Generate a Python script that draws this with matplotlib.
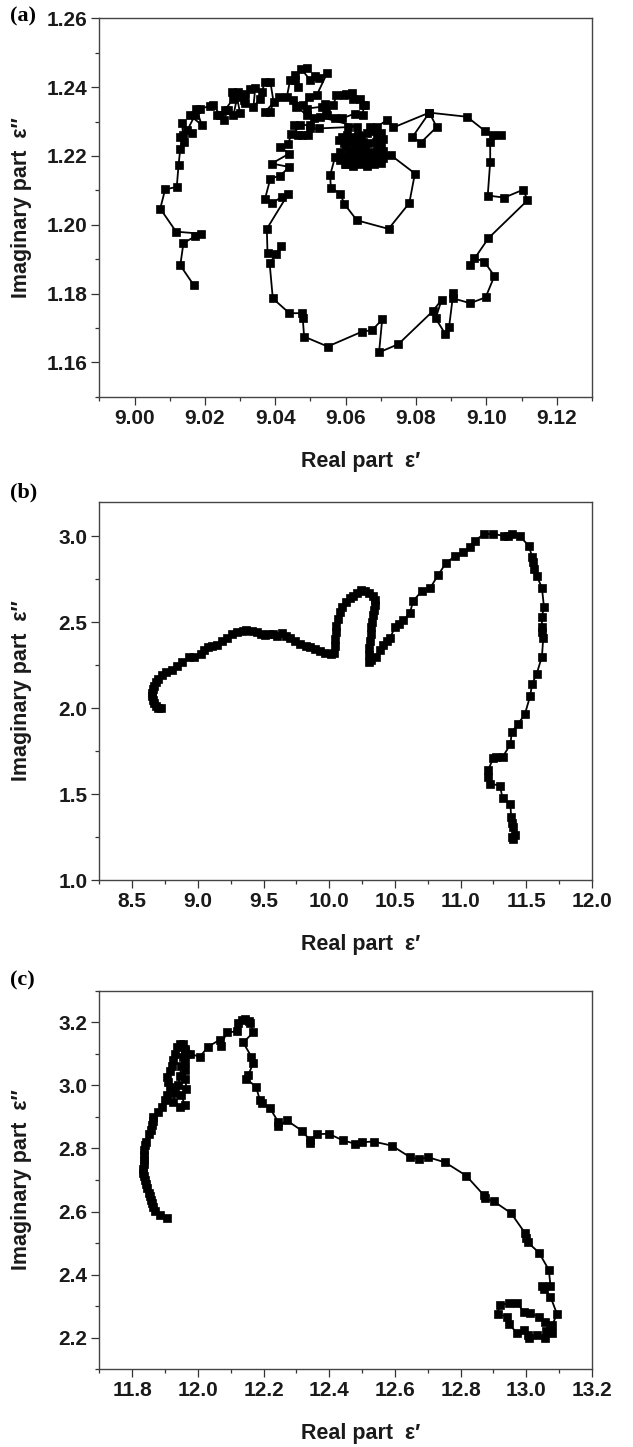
"""Cole-Cole style plots (real vs imaginary permittivity) for three samples."""

import matplotlib
matplotlib.use("Agg")
import matplotlib.pyplot as plt
from matplotlib.font_manager import FontProperties
from matplotlib.ticker import MultipleLocator, FormatStrFormatter

plt.rcParams["font.family"] = ["Liberation Sans", "DejaVu Sans"]

# ---- panel (a) ----
a_real = [
    9.0168, 9.0130, 9.0139, 9.0172, 9.0189, 9.0118, 9.0073, 9.0087, 9.0120, 9.0125,
    9.0130, 9.0139, 9.0128, 9.0140, 9.0135, 9.0163, 9.0150, 9.0172, 9.0158, 9.0191,
    9.0175, 9.0187, 9.0215, 9.0224, 9.0243, 9.0234, 9.0253, 9.0267, 9.0258, 9.0281,
    9.0277, 9.0295, 9.0281, 9.0300, 9.0291, 9.0315, 9.0310, 9.0315, 9.0329, 9.0343,
    9.0338, 9.0357, 9.0362, 9.0371, 9.0386, 9.0395, 9.0386, 9.0371, 9.0410, 9.0433,
    9.0442, 9.0456, 9.0466, 9.0456, 9.0490, 9.0473, 9.0499, 9.0512, 9.0523, 9.0547,
    9.0518, 9.0497, 9.0480, 9.0450, 9.0460, 9.0490, 9.0509, 9.0490, 9.0532, 9.0540,
    9.0547, 9.0545, 9.0565, 9.0574, 9.0594, 9.0602, 9.0618, 9.0621, 9.0641, 9.0655,
    9.0650, 9.0650, 9.0626, 9.0589, 9.0569, 9.0527, 9.0632, 9.0608, 9.0523, 9.0499,
    9.0499, 9.0471, 9.0452, 9.0466, 9.0494, 9.0475, 9.0446, 9.0437, 9.0414, 9.0440,
    9.0390, 9.0440, 9.0414, 9.0386, 9.0371, 9.0390, 9.0418, 9.0437, 9.0376, 9.0378,
    9.0402, 9.0417, 9.0384, 9.0393, 9.0440, 9.0475, 9.0478, 9.0482, 9.0549, 9.0646,
    9.0676, 9.0704, 9.0695, 9.0750, 9.0847, 9.0873, 9.0856, 9.0883, 9.0894, 9.0906,
    9.0906, 9.0954, 9.0998, 9.1023, 9.0994, 9.0966, 9.0954, 9.1006, 9.1117, 9.1105,
    9.1051, 9.1004, 9.1011, 9.1011, 9.1042, 9.1020, 9.0997, 9.0945, 9.0838, 9.0859,
    9.0814, 9.0790, 9.0838, 9.0736, 9.0717, 9.0688, 9.0670, 9.0700, 9.0707, 9.0690,
    9.0680, 9.0660, 9.0645, 9.0635, 9.0620, 9.0605, 9.0590, 9.0580, 9.0595, 9.0615,
    9.0630, 9.0650, 9.0665, 9.0685, 9.0700, 9.0705, 9.0690, 9.0675, 9.0655, 9.0640,
    9.0620, 9.0600, 9.0585, 9.0595, 9.0610, 9.0625, 9.0645, 9.0660, 9.0680, 9.0695,
    9.0705, 9.0690, 9.0670, 9.0650, 9.0630, 9.0612, 9.0598, 9.0729, 9.0797, 9.0781,
    9.0722, 9.0632, 9.0596, 9.0585, 9.0558, 9.0556, 9.0570, 9.0585, 9.0600, 9.0620,
    9.0640, 9.0660, 9.0680, 9.0700, 9.0690, 9.0672, 9.0655, 9.0635, 9.0615,
]
a_imag = [
    1.1825, 1.1882, 1.1947, 1.1966, 1.1974, 1.1980, 1.2047, 1.2103, 1.2110, 1.2173,
    1.2221, 1.2261, 1.2255, 1.2240, 1.2295, 1.2266, 1.2275, 1.2319, 1.2318, 1.2290,
    1.2338, 1.2338, 1.2345, 1.2348, 1.2319, 1.2318, 1.2306, 1.2333, 1.2335, 1.2367,
    1.2386, 1.2387, 1.2318, 1.2324, 1.2372, 1.2353, 1.2362, 1.2381, 1.2396, 1.2397,
    1.2343, 1.2367, 1.2387, 1.2416, 1.2416, 1.2358, 1.2328, 1.2328, 1.2372, 1.2372,
    1.2420, 1.2421, 1.2401, 1.2435, 1.2455, 1.2454, 1.2421, 1.2432, 1.2426, 1.2440,
    1.2377, 1.2372, 1.2348, 1.2362, 1.2343, 1.2319, 1.2309, 1.2338, 1.2343, 1.2352,
    1.2319, 1.2333, 1.2348, 1.2377, 1.2377, 1.2379, 1.2382, 1.2367, 1.2367, 1.2348,
    1.2348, 1.2318, 1.2323, 1.2309, 1.2309, 1.2314, 1.2285, 1.2284, 1.2280, 1.2280,
    1.2290, 1.2290, 1.2289, 1.2261, 1.2261, 1.2260, 1.2265, 1.2236, 1.2226, 1.2207,
    1.2178, 1.2168, 1.2143, 1.2134, 1.2076, 1.2062, 1.2081, 1.2090, 1.1988, 1.1917,
    1.1915, 1.1937, 1.1888, 1.1786, 1.1743, 1.1743, 1.1730, 1.1675, 1.1646, 1.1689,
    1.1694, 1.1725, 1.1629, 1.1653, 1.1748, 1.1782, 1.1728, 1.1683, 1.1702, 1.1801,
    1.1786, 1.1772, 1.1789, 1.1851, 1.1893, 1.1903, 1.1883, 1.1961, 1.2071, 1.2102,
    1.2079, 1.2085, 1.2183, 1.2241, 1.2261, 1.2261, 1.2272, 1.2314, 1.2326, 1.2284,
    1.2239, 1.2255, 1.2326, 1.2283, 1.2304, 1.2284, 1.2284, 1.2268, 1.2250, 1.2262,
    1.2272, 1.2268, 1.2258, 1.2262, 1.2255, 1.2262, 1.2255, 1.2245, 1.2238, 1.2242,
    1.2235, 1.2240, 1.2238, 1.2240, 1.2232, 1.2215, 1.2222, 1.2212, 1.2220, 1.2222,
    1.2218, 1.2225, 1.2212, 1.2200, 1.2205, 1.2198, 1.2202, 1.2196, 1.2200, 1.2205,
    1.2195, 1.2185, 1.2182, 1.2188, 1.2180, 1.2186, 1.2178, 1.2202, 1.2149, 1.2063,
    1.1988, 1.2013, 1.2061, 1.2090, 1.2108, 1.2144, 1.2197, 1.2188, 1.2176, 1.2172,
    1.2178, 1.2172, 1.2176, 1.2180, 1.2190, 1.2200, 1.2208, 1.2214, 1.2210,
]

# ---- panel (b) ----
b_real = [
    8.72, 8.70, 8.68, 8.665, 8.655, 8.65, 8.65, 8.655, 8.665, 8.68,
    8.70, 8.73, 8.76, 8.80, 8.84, 8.88, 8.93, 8.97, 9.02, 9.05,
    9.08, 9.11, 9.145, 9.18, 9.22, 9.26, 9.30, 9.34, 9.37, 9.41,
    9.45, 9.48, 9.51, 9.54, 9.57, 9.60, 9.64, 9.67, 9.70, 9.74,
    9.78, 9.82, 9.85, 9.89, 9.93, 9.97, 10.01, 10.04, 10.045, 10.045,
    10.05, 10.055, 10.065, 10.08, 10.10, 10.13, 10.16, 10.18, 10.21, 10.24,
    10.27, 10.30, 10.33, 10.345, 10.35, 10.34, 10.33, 10.325, 10.32, 10.315,
    10.31, 10.305, 10.305, 10.305, 10.32, 10.36, 10.39, 10.41, 10.44, 10.465,
    10.50, 10.53, 10.565, 10.615, 10.64, 10.705, 10.77, 10.83, 10.89, 10.96,
    11.02, 11.07, 11.11, 11.175, 11.25, 11.33, 11.36, 11.39, 11.45, 11.52,
    11.545, 11.55, 11.56, 11.58, 11.62, 11.635, 11.62, 11.62, 11.62, 11.63,
    11.62, 11.58, 11.545, 11.53, 11.49, 11.44, 11.39, 11.38, 11.32, 11.27,
    11.25, 11.21, 11.21, 11.225, 11.30, 11.32, 11.38, 11.385, 11.39, 11.40,
    11.415, 11.39, 11.40,
]
b_imag = [
    2.00, 2.00, 2.01, 2.03, 2.05, 2.07, 2.09, 2.11, 2.13, 2.15,
    2.17, 2.19, 2.21, 2.22, 2.245, 2.27, 2.295, 2.30, 2.315, 2.34,
    2.355, 2.36, 2.37, 2.39, 2.41, 2.43, 2.44, 2.45, 2.455, 2.45,
    2.44, 2.43, 2.425, 2.43, 2.43, 2.42, 2.435, 2.42, 2.41, 2.39,
    2.375, 2.36, 2.355, 2.345, 2.335, 2.32, 2.315, 2.32, 2.36, 2.40,
    2.44, 2.48, 2.52, 2.56, 2.59, 2.62, 2.64, 2.655, 2.67, 2.685,
    2.68, 2.67, 2.655, 2.63, 2.60, 2.57, 2.54, 2.50, 2.47, 2.43,
    2.39, 2.35, 2.31, 2.27, 2.28, 2.30, 2.34, 2.37, 2.39, 2.41,
    2.47, 2.49, 2.51, 2.555, 2.625, 2.68, 2.70, 2.775, 2.845, 2.885,
    2.91, 2.935, 2.975, 3.01, 3.015, 3.00, 3.00, 3.015, 3.00, 2.945,
    2.88, 2.85, 2.81, 2.77, 2.70, 2.59, 2.53, 2.47, 2.44, 2.41,
    2.30, 2.20, 2.14, 2.07, 1.965, 1.91, 1.86, 1.79, 1.715, 1.715,
    1.71, 1.64, 1.60, 1.56, 1.55, 1.475, 1.445, 1.365, 1.33, 1.31,
    1.26, 1.25, 1.24,
]

# ---- panel (c) ----
c_real = [
    11.905, 11.884, 11.869, 11.862, 11.859, 11.856, 11.854, 11.850, 11.846, 11.843,
    11.839, 11.836, 11.834, 11.834, 11.835, 11.836, 11.836, 11.837, 11.839, 11.842,
    11.852, 11.856, 11.859, 11.862, 11.864, 11.879, 11.892, 11.900, 11.905, 11.915,
    11.910, 11.907, 11.915, 11.920, 11.925, 11.930, 11.935, 11.945, 11.955, 11.962,
    11.965, 11.962, 11.960, 11.962, 11.965, 11.950, 11.960, 11.945, 11.925, 11.930,
    11.940, 11.945, 11.950, 11.955, 11.960, 11.975, 12.006, 12.032, 12.067, 12.070,
    12.088, 12.118, 12.123, 12.135, 12.143, 12.155, 12.159, 12.169, 12.138, 12.163,
    12.169, 12.153, 12.148, 12.177, 12.189, 12.195, 12.220, 12.245, 12.245, 12.271,
    12.316, 12.342, 12.342, 12.362, 12.398, 12.441, 12.479, 12.499, 12.535, 12.591,
    12.647, 12.672, 12.702, 12.753, 12.817, 12.870, 12.875, 12.902, 12.954, 12.997,
    13.000, 13.005, 13.039, 13.069, 13.074, 13.049, 13.055, 13.074, 13.094, 13.079,
    13.075, 13.058, 13.033, 13.008, 13.005, 12.992, 12.972, 12.947, 12.941, 12.913,
    12.919, 12.947, 12.972, 12.992, 13.013, 13.038, 13.058, 13.074, 13.079, 13.060,
]
c_imag = [
    2.581, 2.589, 2.603, 2.615, 2.626, 2.638, 2.648, 2.660, 2.674, 2.687,
    2.700, 2.712, 2.722, 2.735, 2.750, 2.762, 2.778, 2.794, 2.810, 2.820,
    2.847, 2.860, 2.873, 2.886, 2.900, 2.916, 2.932, 2.953, 2.970, 2.996,
    3.010, 3.028, 3.045, 3.060, 3.080, 3.100, 3.123, 3.130, 3.130, 3.115,
    3.100, 3.075, 3.050, 3.020, 2.990, 2.970, 2.937, 2.932, 2.948, 2.975,
    3.000, 3.030, 3.060, 3.090, 3.110, 3.100, 3.091, 3.123, 3.145, 3.125,
    3.168, 3.171, 3.198, 3.208, 3.211, 3.205, 3.198, 3.168, 3.136, 3.091,
    3.070, 3.033, 3.020, 2.996, 2.953, 2.945, 2.927, 2.884, 2.870, 2.889,
    2.857, 2.826, 2.816, 2.845, 2.847, 2.826, 2.815, 2.820, 2.822, 2.809,
    2.772, 2.766, 2.772, 2.756, 2.714, 2.653, 2.642, 2.632, 2.595, 2.531,
    2.515, 2.502, 2.470, 2.415, 2.364, 2.364, 2.355, 2.330, 2.275, 2.240,
    2.225, 2.198, 2.208, 2.198, 2.210, 2.224, 2.214, 2.245, 2.267, 2.275,
    2.304, 2.309, 2.311, 2.283, 2.277, 2.267, 2.251, 2.235, 2.214, 2.220,
]

XLABEL = "Real part  \u03b5\u2032"
YLABEL = "Imaginary part  \u03b5\u2033"

TICK_FONT = dict(family=["Liberation Sans", "DejaVu Sans"], weight="bold", size=15)
LABEL_FONT = dict(family=["Liberation Sans", "DejaVu Sans"], weight="bold", size=15.5)


def style_axes(ax, xlim, ylim, xmaj, xmin, ymaj, ymin, fmt):
    ax.set_xlim(*xlim)
    ax.set_ylim(*ylim)
    ax.xaxis.set_major_locator(MultipleLocator(xmaj))
    ax.xaxis.set_minor_locator(MultipleLocator(xmin))
    ax.yaxis.set_major_locator(MultipleLocator(ymaj))
    ax.yaxis.set_minor_locator(MultipleLocator(ymin))
    ax.xaxis.set_major_formatter(FormatStrFormatter(fmt))
    ax.yaxis.set_major_formatter(FormatStrFormatter(fmt))
    ax.tick_params(which="both", direction="out", top=False, right=False,
                   width=0.9, color="#333333")
    ax.tick_params(which="major", length=5.5, pad=3)
    ax.tick_params(which="minor", length=3)
    for lab in ax.get_xticklabels() + ax.get_yticklabels():
        lab.set_fontproperties(FontProperties(**TICK_FONT))
        lab.set_color("#1a1a1a")
    for sp in ax.spines.values():
        sp.set_linewidth(1.0)
        sp.set_color("#444444")
    ax.set_xlabel(XLABEL, color="#1a1a1a", **LABEL_FONT)
    ax.set_ylabel(YLABEL, color="#1a1a1a", **LABEL_FONT)
    ax.xaxis.set_label_coords(0.53, -0.143)
    ax.yaxis.set_label_coords(-0.137, 0.5)


def panel(fig, rect, x, y, ms):
    ax = fig.add_axes(rect)
    ax.plot(x, y, color="black", lw=1.3, marker="s", ms=ms,
            mfc="black", mec="black", mew=0.5)
    return ax


def main():
    fig = plt.figure(figsize=(6.33, 14.47), dpi=100)
    left, width = 0.157, 0.778

    ax = panel(fig, [left, 0.7258, width, 0.2615], a_real, a_imag, 5.6)
    style_axes(ax, (8.99, 9.13), (1.15, 1.26), 0.02, 0.01, 0.02, 0.01, "%.2f")

    ax = panel(fig, [left, 0.3918, width, 0.2614], b_real, b_imag, 5.3)
    style_axes(ax, (8.25, 12.0), (1.0, 3.2), 0.5, 0.25, 0.5, 0.25, "%.1f")

    ax = panel(fig, [left, 0.0537, width, 0.2616], c_real, c_imag, 5.3)
    style_axes(ax, (11.7, 13.2), (2.1, 3.3), 0.2, 0.1, 0.2, 0.1, "%.1f")

    serif = dict(family=["Liberation Serif", "DejaVu Serif"], weight="bold", size=16)
    fig.text(0.016, 1 - 16 / 1447, "(a)", ha="left", va="center", **serif)
    fig.text(0.016, 1 - 492 / 1447, "(b)", ha="left", va="center", **serif)
    fig.text(0.016, 1 - 980 / 1447, "(c)", ha="left", va="center", **serif)

    fig.savefig("out.png", dpi=100, facecolor="white")
    plt.close(fig)


if __name__ == "__main__":
    main()
